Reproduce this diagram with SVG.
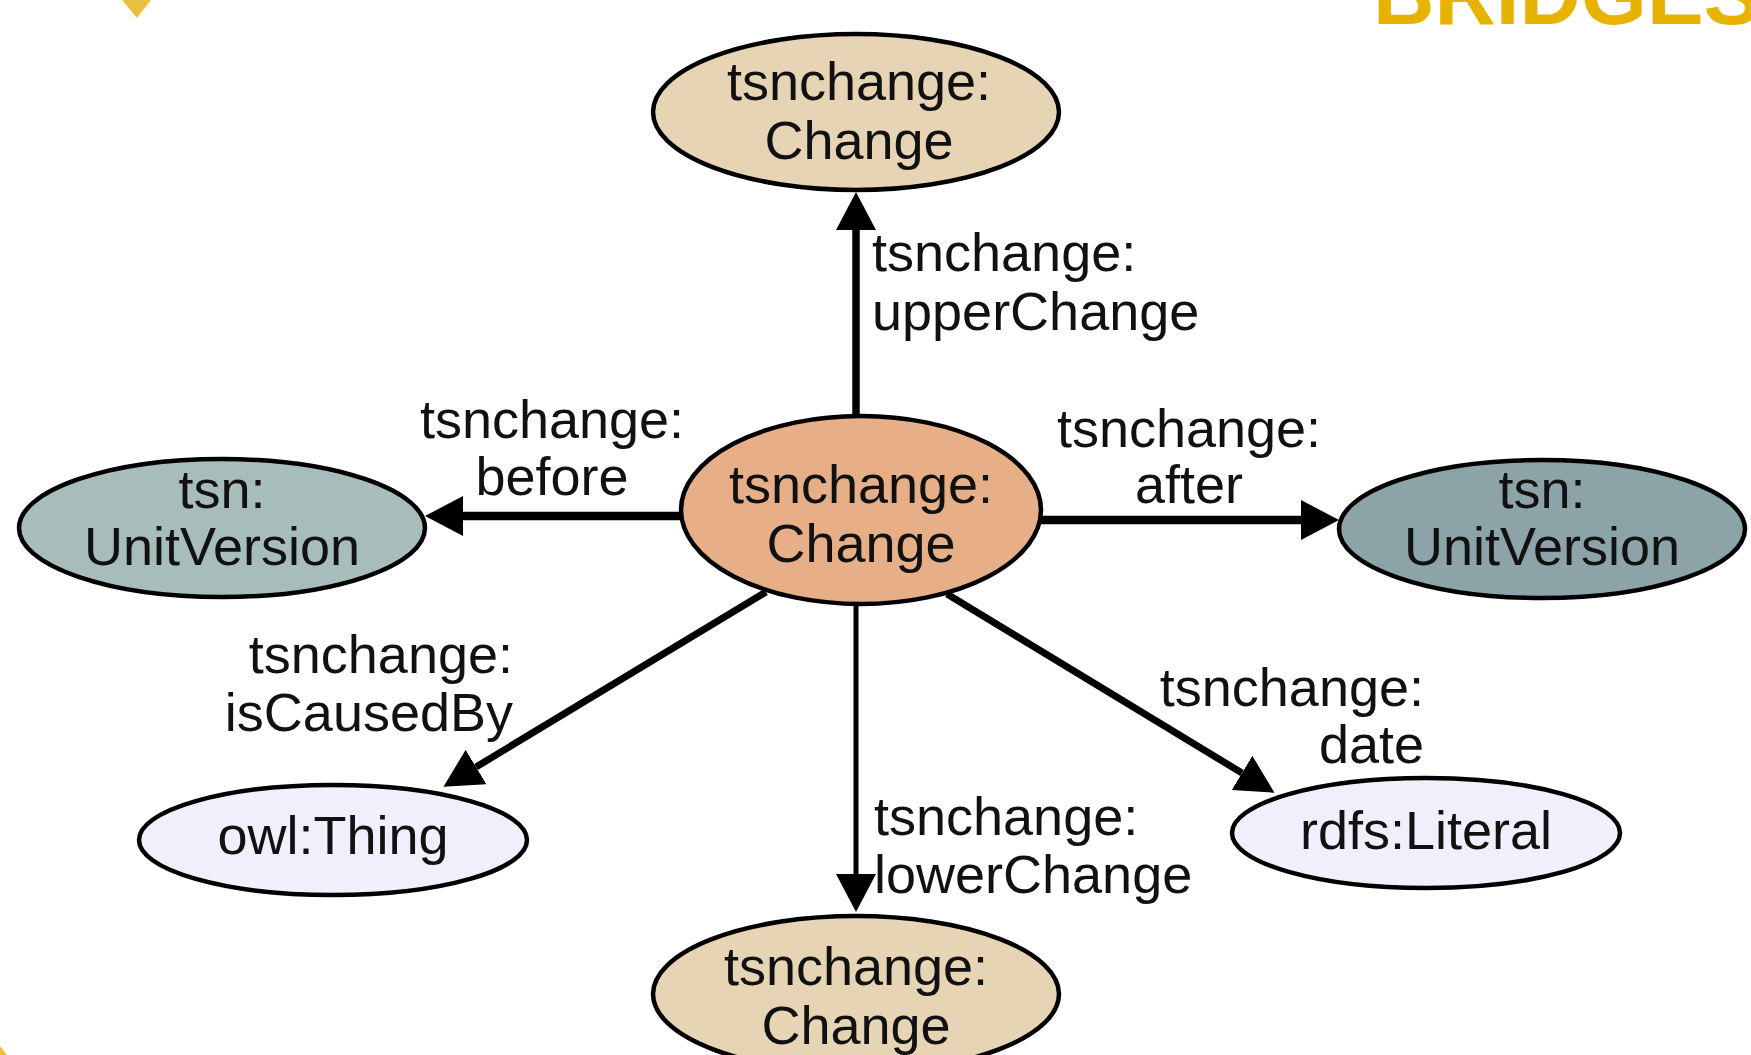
<svg xmlns="http://www.w3.org/2000/svg" width="1751" height="1055" viewBox="0 0 1751 1055">
  <defs>
    <style>
      .node { stroke: #000; stroke-width: 4.5; }
      .lbl { font-family: "Liberation Sans", Arial, sans-serif; font-size: 54px; fill: #111; }
      .mid { text-anchor: middle; }
      .end { text-anchor: end; }
      .edge { stroke: #000; fill: none; }
      .deco { fill: #E8B300; }
    </style>
    <marker id="head" markerUnits="userSpaceOnUse" viewBox="0 0 38 40" markerWidth="38" markerHeight="40" refX="0" refY="20" orient="auto">
      <path d="M0,0 L38,20 L0,40 Z" fill="#000"/>
    </marker>
  </defs>
  <rect width="1751" height="1055" fill="#fff"/>

  <!-- decorations -->
  <polygon points="122,0 151,0 137,18" fill="#E8C040"/>
  <polygon points="0,1046 0,1055 7,1055" fill="#E8C040"/>
  <text x="1373" y="24" font-family="'Liberation Sans', Arial, sans-serif" font-weight="bold" font-size="85" class="deco">BRIDGES</text>

  <g id="connectors">
    <line class="edge" x1="856" y1="418" x2="856" y2="230" stroke-width="7.5" marker-end="url(#head)"/>
    <line class="edge" x1="683" y1="516" x2="463" y2="516" stroke-width="8.5" marker-end="url(#head)"/>
    <line class="edge" x1="1039" y1="520" x2="1301" y2="520" stroke-width="8.5" marker-end="url(#head)"/>
    <line class="edge" x1="856" y1="603" x2="856" y2="874" stroke-width="5" marker-end="url(#head)"/>
    <line class="edge" x1="766" y1="592" x2="476" y2="767" stroke-width="7" marker-end="url(#head)"/>
    <line class="edge" x1="947" y1="594" x2="1242" y2="773" stroke-width="7" marker-end="url(#head)"/>
  </g>

  <g id="edge-labels" class="lbl">
    <text x="872" y="271">tsnchange:</text>
    <text x="872" y="330">upperChange</text>
    <text class="mid" x="552" y="438">tsnchange:</text>
    <text class="mid" x="552" y="495">before</text>
    <text class="mid" x="1189" y="447">tsnchange:</text>
    <text class="mid" x="1189" y="503">after</text>
    <text class="end" x="513" y="673">tsnchange:</text>
    <text class="end" x="513" y="731">isCausedBy</text>
    <text class="end" x="1424" y="706">tsnchange:</text>
    <text class="end" x="1424" y="763">date</text>
    <text x="874" y="835">tsnchange:</text>
    <text x="874" y="893">lowerChange</text>
  </g>

  <g id="node-upper">
    <ellipse class="node" cx="856" cy="112" rx="203" ry="78" fill="#E6D4B4"/>
    <text class="lbl mid" x="859" y="100">tsnchange:</text>
    <text class="lbl mid" x="859" y="159">Change</text>
  </g>
  <g id="node-center">
    <ellipse class="node" cx="861" cy="510" rx="180" ry="94" fill="#E6AF88"/>
    <text class="lbl mid" x="861" y="503">tsnchange:</text>
    <text class="lbl mid" x="861" y="562">Change</text>
  </g>
  <g id="node-before">
    <ellipse class="node" cx="222" cy="528" rx="203" ry="69" fill="#A7BDBC"/>
    <text class="lbl mid" x="222" y="508">tsn:</text>
    <text class="lbl mid" x="222" y="565">UnitVersion</text>
  </g>
  <g id="node-after">
    <ellipse class="node" cx="1542" cy="529" rx="203" ry="69" fill="#8CA4A8"/>
    <text class="lbl mid" x="1542" y="508">tsn:</text>
    <text class="lbl mid" x="1542" y="565">UnitVersion</text>
  </g>
  <g id="node-thing">
    <ellipse class="node" cx="333" cy="840" rx="194" ry="55" fill="#F0F0FC"/>
    <text class="lbl mid" x="333" y="854">owl:Thing</text>
  </g>
  <g id="node-literal">
    <ellipse class="node" cx="1426" cy="833" rx="194" ry="55" fill="#F0F0FC"/>
    <text class="lbl mid" x="1426" y="849">rdfs:Literal</text>
  </g>
  <g id="node-lower">
    <ellipse class="node" cx="856" cy="994" rx="203" ry="78" fill="#E6D4B4"/>
    <text class="lbl mid" x="856" y="985">tsnchange:</text>
    <text class="lbl mid" x="856" y="1044">Change</text>
  </g>
</svg>
